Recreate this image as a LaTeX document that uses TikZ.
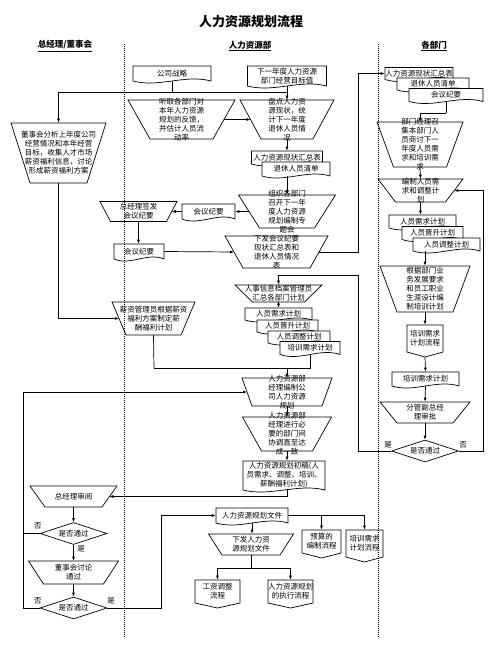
\documentclass[tikz,border=0pt]{standalone}
\usepackage{fontspec}
\setmainfont{Noto Sans CJK SC}
\usetikzlibrary{shapes.geometric,arrows.meta}

% document box: name, x, y, width, height, text
\newcommand{\docshape}[6]{%
  \filldraw[fill=white] ({#2-#4/2},{#3+#5/2}) -- ({#2-#4/2},{#3-#5/2}) -- ({#2+#4/2},{#3-#5/2}) -- ({#2+#4/2},{#3+#5/2})
    .. controls ({#2+#4/6},{#3+#5/2-7}) and ({#2-#4/6},{#3+#5/2+7}) .. cycle;
  \node[doc, minimum width=#4pt, minimum height=#5pt] (#1) at (#2,#3) {#6};
}
% manual operation box: name, x, y, top width, bottom width, height, text
\newcommand{\trapshape}[7]{%
  \draw ({#2-#4/2},{#3-#6/2}) -- ({#2+#4/2},{#3-#6/2}) -- ({#2+#5/2},{#3+#6/2}) -- ({#2-#5/2},{#3+#6/2}) -- cycle;
  \node[doc, minimum width=#4pt, minimum height=#6pt, label={center:#7}] (#1) at (#2,#3) {};
  \coordinate (#1-w) at ({#2-(#4+#5)/4},#3);
  \coordinate (#1-e) at ({#2+(#4+#5)/4},#3);
}
% off-page box: name, x, top, width, body height, text
\newcommand{\offpage}[6]{%
  \filldraw[fill=white] ({#2-#4/2},#3) -- ({#2+#4/2},#3) -- ({#2+#4/2},{#3+#5}) -- (#2,{#3+#5+5}) -- ({#2-#4/2},{#3+#5}) -- cycle;
  \node[doc, minimum width=#4pt, minimum height=#5pt] (#1) at (#2,{#3+#5/2}) {#6};
  \coordinate (#1-tip) at (#2,{#3+#5+5});
}

\begin{document}
\begin{tikzpicture}[x=1pt, y=-1pt, line width=0.7pt, >={Latex[length=4pt,width=3pt]},
    font=\fontsize{7.5}{9}\selectfont,
    doc/.style={align=center, inner sep=0pt},
    dec/.style={diamond, draw, aspect=3, inner sep=0pt, minimum width=67pt, minimum height=22pt},
    every label/.style={align=center}]
  \useasboundingbox (0,0) rectangle (503,670);

  \node (title) at (251,22) {\fontsize{13}{15}\selectfont\bfseries 人力资源规划流程};
  \node (hd1) at (65,46) {\fontsize{8.5}{10}\selectfont\bfseries\underline{总经理/董事会}};
  \node (hd2) at (250,46) {\fontsize{8.5}{10}\selectfont\bfseries\underline{人力资源部}};
  \node (hd3) at (434,46) {\fontsize{8.5}{10}\selectfont\bfseries\underline{各部门}};

  % boss column
  \trapshape{b1}{58.5}{153}{95}{57}{60}{董事会分析上年度公司\\经营情况和本年经营\\目标，收集人才市场\\薪资福利信息，讨论\\形成薪资福利方案}
  \trapshape{b2}{138.5}{211.5}{77}{56}{20}{总经理签发\\会议纪要}
  \trapshape{b3}{73.5}{496.5}{87}{57}{21}{总经理审阅}
  \node[dec] (c1) at (73.5,533.5) {是否通过};
  \trapshape{b4}{73.5}{572.5}{90}{60}{23}{董事会讨论\\通过}
  \node[dec] (c2) at (73.5,608) {是否通过};

  % hr column
  \docshape{d1}{172}{73.5}{78}{15}{公司战略}
  \docshape{d2}{287}{76}{79}{20}{下一年度人力资源\\部门经营目标值}
  \trapshape{t1}{181.5}{119.5}{107}{63}{39}{听取各部门对\\本年人力资源\\规划的反馈，\\并估计人员流\\动率}
  \trapshape{t2}{287}{119.5}{94}{52}{39}{盘点人力资\\源现状，统\\计下一年度\\退休人员情\\况}
  \docshape{d3}{287}{157.5}{71}{13}{人力资源现状汇总表}
  \docshape{d4}{296}{169}{68}{14}{退休人员清单}
  \trapshape{t3}{287}{211.5}{97}{55}{33}{组织各部门\\召开下一年\\度人力资源\\规划编制专\\题会}
  \docshape{d5}{208.5}{211.5}{53}{15}{会议纪要}
  \docshape{d6}{139}{251.5}{50}{15}{会议纪要}
  \trapshape{t4}{276.5}{252}{103}{67}{32}{下发会议纪要\\现状汇总表和\\退休人员情况\\表}
  \trapshape{t6}{278.5}{293.5}{87}{52}{17}{人事信息档案管理员\\汇总各部门计划}
  \docshape{m1}{278.5}{314}{67}{12}{人员需求计划}
  \docshape{m2}{287.5}{326}{61}{12}{人员晋升计划}
  \docshape{m3}{299}{337}{62}{12}{人员调整计划}
  \docshape{m4}{310}{348}{60}{13}{培训需求计划}
  \trapshape{t5}{153.5}{318.5}{83}{55}{33}{薪资管理员根据薪资\\福利方案制定薪\\酬福利计划}
  \trapshape{t7}{287}{392}{90}{70}{28}{人力资源部\\经理编制公\\司人力资源\\规划}
  \trapshape{t8}{287}{434}{89}{51}{34}{人力资源部\\经理进行必\\要的部门间\\协调直至达\\成一致}
  \docshape{d8}{284}{475.5}{82}{29}{人力资源规划初稿(人\\员需求、调整、培训、\\薪酬福利计划)}
  \docshape{d9}{252}{515.5}{72}{15}{人力资源规划文件}
  \trapshape{t9}{251}{544.5}{85}{58}{21}{下发人力资\\源规划文件}
  \offpage{o1}{321.5}{530}{39}{23}{预算的\\编制流程}
  \offpage{o2}{364.5}{530}{37}{27}{培训需求\\计划流程}
  \offpage{o3}{217.5}{580}{45}{23}{工资调整\\流程}
  \offpage{o4}{290.5}{580}{45}{23}{人力资源规划\\的执行流程}

  % department column
  \docshape{s1}{419}{73.5}{68}{12}{人力资源现状汇总表}
  \docshape{s2}{433}{84}{72}{12}{退休人员清单}
  \docshape{s3}{446}{95}{74}{13}{会议纪要}
  \trapshape{r1}{420}{144.5}{86}{53}{45}{部门经理召\\集本部门人\\员商讨下一\\年度人员需\\求和培训需\\求}
  \trapshape{r2}{420.5}{190.5}{85}{50}{23}{编制人员需\\求和调整计\\划}
  \docshape{p1}{422.5}{221.5}{67}{13}{人员需求计划}
  \docshape{p2}{432.5}{233}{61}{13}{人员晋升计划}
  \docshape{p3}{446.5}{244.5}{67}{13}{人员调整计划}
  \trapshape{r3}{425}{289}{90}{56}{46}{根据部门业\\务发展要求\\和员工职业\\生涯设计编\\制培训计划}
  \offpage{o5}{425}{325}{36}{27}{培训需求\\计划流程}
  \docshape{m5}{425.5}{379}{67}{14}{培训需求计划}
  \trapshape{r4}{425}{412.5}{90}{56}{21}{分管副总经\\理审批}
  \node[dec] (c3) at (425,451) {是否通过};

  % yes / no
  \node (n1) at (38,526) {否};
  \node (y1) at (81,549) {是};
  \node (n2) at (38,601) {否};
  \node (y2) at (111,601) {是};
  \node (y3) at (388,445) {是};
  \node (n3) at (463,445) {否};

  % connectors
  \coordinate (j1) at (172,92);
  \draw (d1.south) -- (j1);
  \draw[->] (j1) -| (b1.north);
  \draw (j1) -- (j1 -| d2.south);
  \draw[->] (d2.south) -- (t2.north);
  \draw[->] (t1-e) -- (t2-w);
  \draw[->] (t2.south) -- (d3.north);
  \draw[->] (t3.north |- d4.south) -- (t3.north);
  \draw[->] (t3-w) -- (d5.east);
  \draw[->] (d5.west) -- (b2-e);
  \draw[->] (b2.south) -- (b2.south |- d6.north);
  \draw[->] (d6.east) -- (t4-w);
  \coordinate (j2) at (358,73.5);
  \draw[->] (t4-e) -| (j2) -- (s1.west);
  \coordinate (j3) at (446,113);
  \draw (s3.south) -- (j3);
  \draw[->] (j3) -| (r1.north);
  \draw[->] (r1.south) -- (r2.north);
  \draw[->] (r2.south) -- (r2.south |- p1.north);
  \draw[->] (r3.north |- p3.south) -- (r3.north);
  \draw[->] (r3.south) -- (o5.north);
  \draw[->] (o5-tip) -- (m5.north);
  \draw[->] (m5.south) -- (r4.north);
  \draw[->] (r4.south) -- (c3.north);
  \coordinate (j4) at (483,190.5);
  \draw[->] (c3.east) -| (j4) -- (r2-e);
  \coordinate (j5) at (358,275);
  \draw[->] (c3.west) -| (j5) -| (t6.north);
  \draw[->] (t6.south) -- (m1.north);
  \draw[->] (b1.south) |- (t5-w);
  \coordinate (j6) at (310,368);
  \coordinate (j7) at (154,368);
  \draw (m4.south) -- (j6) -- (j7);
  \draw (t5.south) -- (j7);
  \draw[->] (j7 -| t7.north) -- (t7.north);
  \coordinate (j8) at (23,392);
  \draw[->] (c2.west) -| (j8) -- (t7-w);
  \draw (c1.west) -- (c1.west -| j8);
  \draw[->] (t7.south) -- (t8.north);
  \draw[->] (t8.south) -- (t8.south |- d8.north);
  \draw[->] (d8.south -| t8.south) |- (b3-e);
  \draw[->] (b3.south) -- (c1.north);
  \draw[->] (c1.south) -- (b4.north);
  \draw[->] (b4.south) -- (c2.north);
  \coordinate (j9) at (161,608);
  \draw[->] (c2.east) -- (j9) |- (d9.west);
  \draw[->] (d9.east) -| (o2.north);
  \draw[->] (o1.north |- d9.east) -- (o1.north);
  \draw[->] (d9.south) -- (d9.south |- t9.north);
  \coordinate (j10) at (251,568);
  \draw (t9.south) -- (j10);
  \draw[->] (j10) -| (o3.north);
  \draw[->] (j10) -| (o4.north);

  % lane separators
  \draw[line width=0.6pt, dash pattern=on 1pt off 1pt] (124,44) -- (124,637);
  \draw[line width=0.6pt, dash pattern=on 1pt off 1pt] (378,44) -- (378,637);
\end{tikzpicture}
\end{document}
